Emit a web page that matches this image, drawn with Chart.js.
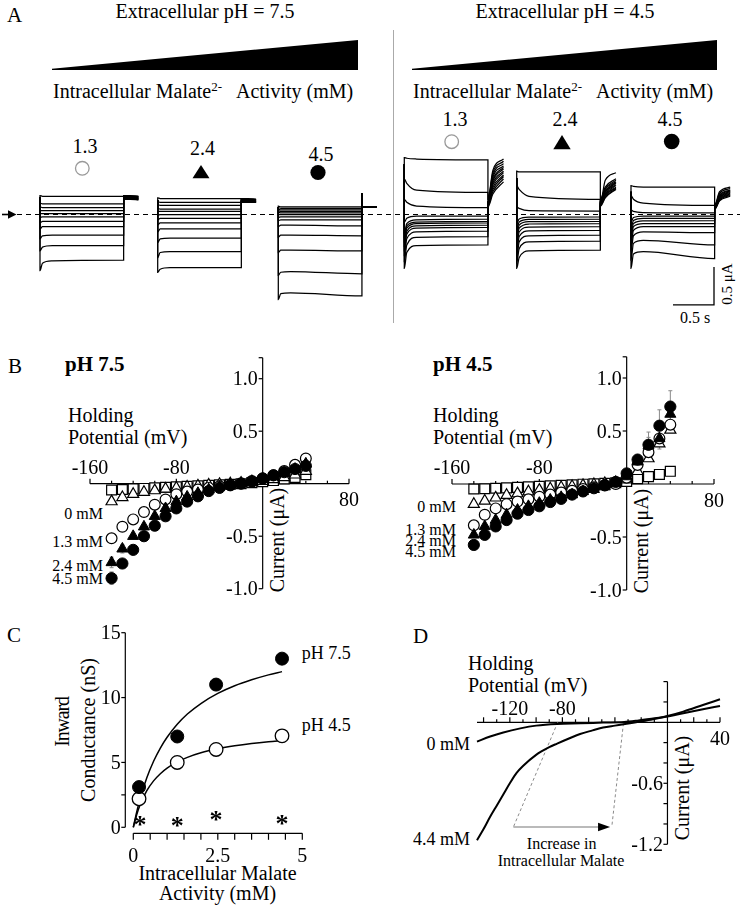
<!DOCTYPE html>
<html lang="en"><head><meta charset="utf-8"><title>Intracellular malate and ALMT currents</title>
<script src="https://cdn.jsdelivr.net/npm/chart.js@4.4.1/dist/chart.umd.min.js"></script>
<style>
 html,body{margin:0;padding:0;background:#fff}
 #fig{position:relative;width:740px;height:909px;overflow:hidden;font-family:"Liberation Serif","Times New Roman",serif;color:#000}
 canvas{position:absolute}
 .t{position:absolute;white-space:nowrap;line-height:1}
 .c{transform:translate(-50%,-50%)}
 .l{transform:translate(0,-50%)}
 .r{transform:translate(-100%,-50%)}
 .v{transform:translate(-50%,-50%) rotate(-90deg)}
 .sup{font-size:13px;position:relative;top:-7px}
 .b{font-weight:bold}
</style></head>
<body><div id="fig">
<svg style="position:absolute;left:0;top:0" width="740" height="200">
 <polygon points="52,68.8 358,40 358,70 52,70" fill="#000"/>
 <polygon points="412,68.8 717,40 717,70 412,70" fill="#000"/>
 <circle cx="82.3" cy="168.3" r="6.8" fill="#fff" stroke="#999" stroke-width="1.3"/>
 <polygon points="201,165 209.5,178.3 192.5,178.3" fill="#000"/>
 <circle cx="318" cy="172.5" r="7.6" fill="#000"/>
 <circle cx="451.7" cy="141.7" r="6.8" fill="#fff" stroke="#999" stroke-width="1.3"/>
 <polygon points="562,135 570.7,149.3 553.3,149.3" fill="#000"/>
 <circle cx="671.7" cy="141.5" r="7.8" fill="#000"/>
</svg>
<div style="position:absolute;left:392.5px;top:30px;width:1.5px;height:293px;background:#aaa"></div>

<div class="t l" style="left:7px;top:15px;font-size:21px">A</div>
<div class="t c" style="left:205px;top:10.5px;font-size:20px">Extracellular pH = 7.5</div>
<div class="t c" style="left:565px;top:10.5px;font-size:20px">Extracellular pH = 4.5</div>
<div class="t l" style="left:53px;top:90.8px;font-size:20px">Intracellular Malate<span class="sup">2-</span>&nbsp;&nbsp; Activity (mM)</div>
<div class="t l" style="left:413px;top:90.8px;font-size:20px">Intracellular Malate<span class="sup">2-</span>&nbsp;&nbsp; Activity (mM)</div>
<div class="t c" style="left:85px;top:146px;font-size:20px">1.3</div>
<div class="t c" style="left:202.5px;top:147.5px;font-size:20px">2.4</div>
<div class="t c" style="left:321px;top:154px;font-size:20px">4.5</div>
<div class="t c" style="left:455px;top:119px;font-size:20px">1.3</div>
<div class="t c" style="left:565px;top:119px;font-size:20px">2.4</div>
<div class="t c" style="left:670px;top:119px;font-size:20px">4.5</div>
<div class="t v" style="left:727px;top:284px;font-size:15px">0.5 μA</div>
<div class="t c" style="left:695px;top:318px;font-size:16px">0.5 s</div>

<div class="t l" style="left:8px;top:366px;font-size:21px">B</div>
<div class="t l b" style="left:65px;top:364px;font-size:21px">pH 7.5</div>
<div class="t l b" style="left:433px;top:364px;font-size:21px">pH 4.5</div>
<div class="t l" style="left:68px;top:415px;font-size:20px">Holding</div>
<div class="t l" style="left:68px;top:436.7px;font-size:20px">Potential (mV)</div>
<div class="t l" style="left:433px;top:415px;font-size:20px">Holding</div>
<div class="t l" style="left:433px;top:436.7px;font-size:20px">Potential (mV)</div>
<div class="t v" style="left:277px;top:540px;font-size:20px">Current (μA)</div>
<div class="t v" style="left:641px;top:541px;font-size:20px">Current (μA)</div>
<div class="t r" style="left:103px;top:514px;font-size:16px">0 mM</div>
<div class="t r" style="left:103px;top:541.7px;font-size:16px">1.3 mM</div>
<div class="t r" style="left:103px;top:565.7px;font-size:16px">2.4 mM</div>
<div class="t r" style="left:103px;top:579px;font-size:16px">4.5 mM</div>
<div class="t r" style="left:456px;top:506.7px;font-size:16px">0 mM</div>
<div class="t r" style="left:456px;top:529.7px;font-size:16px">1.3 mM</div>
<div class="t r" style="left:456px;top:541.3px;font-size:16px">2.4 mM</div>
<div class="t r" style="left:456px;top:551.7px;font-size:16px">4.5 mM</div>

<div class="t l" style="left:7px;top:635px;font-size:21px">C</div>
<div class="t v" style="left:62px;top:722px;font-size:20px;letter-spacing:-1.2px">Inward</div>
<div class="t v" style="left:88px;top:730px;font-size:20px">Conductance (nS)</div>
<div class="t l" style="left:301.7px;top:653px;font-size:18px">pH 7.5</div>
<div class="t l" style="left:301.7px;top:725px;font-size:18px">pH 4.5</div>
<div class="t c" style="left:217.5px;top:873px;font-size:20px">Intracellular Malate</div>
<div class="t c" style="left:217.5px;top:893.3px;font-size:20px">Activity (mM)</div>

<div class="t l" style="left:413px;top:635.8px;font-size:21px">D</div>
<div class="t l" style="left:468px;top:662.7px;font-size:20px">Holding</div>
<div class="t l" style="left:468px;top:684.5px;font-size:20px">Potential (mV)</div>
<div class="t v" style="left:681.7px;top:788px;font-size:20px">Current (μA)</div>
<div class="t r" style="left:470px;top:744px;font-size:18px">0 mM</div>
<div class="t r" style="left:470px;top:839px;font-size:18px">4.4 mM</div>
<div class="t c" style="left:561.7px;top:844px;font-size:16px">Increase in</div>
<div class="t c" style="left:561px;top:861px;font-size:16px">Intracellular Malate</div>

<canvas id="cA" width="740" height="180" style="left:0;top:150px;width:740px;height:180px"></canvas>
<canvas id="cB1" width="370" height="270" style="left:0;top:340px;width:370px;height:270px"></canvas>
<canvas id="cB2" width="370" height="270" style="left:370px;top:340px;width:370px;height:270px"></canvas>
<canvas id="cC" width="380" height="294" style="left:0;top:615px;width:380px;height:294px"></canvas>
<canvas id="cD" width="360" height="294" style="left:380px;top:615px;width:360px;height:294px"></canvas>
</div>
<script>
// ======================= DATA =======================
// ---- Panel A: voltage-clamp current traces (uA vs s) ----
const pulseT = [0, 0.03, 0.15, 1.02];           // sample times within the pulse (s)
const tailT_std = [1.02, 1.10, 1.20];           // tail sample times (s)
const tailT_spike = [1.02, 1.02, 1.20];
const tailT_fan = [1.02, 1.08, 1.21];

// pH 7.5, 1.3 mM : [I(0), I(0.03), I(0.15), I(end)]
const hold75_13 = 0.23;
const sweeps75_13 = [[0.25,0.24,0.24,0.24],[0.15,0.14,0.14,0.14],[0.10,0.09,0.09,0.09],[0.05,0.05,0.05,0.05],
 [0.01,0.01,0.01,0.01],[-0.04,-0.03,-0.03,-0.03],[-0.11,-0.09,-0.09,-0.09],[-0.19,-0.16,-0.16,-0.16],
 [-0.32,-0.28,-0.27,-0.27],[-0.48,-0.43,-0.41,-0.41],[-0.74,-0.64,-0.61,-0.60]];
const tails75_13 = [[0.25,0.25,0.24],[0.25,0.24,0.24],[0.24,0.24,0.23],[0.24,0.23,0.23],[0.23,0.23,0.22],[0.23,0.22,0.22],
 [0.22,0.22,0.21],[0.22,0.21,0.21],[0.21,0.21,0.20],[0.21,0.20,0.20],[0.20,0.20,0.19]];
// pH 7.5, 2.4 mM
const hold75_24 = 0.19;
const sweeps75_24 = [[0.22,0.21,0.21,0.21],[0.17,0.16,0.16,0.16],[0.13,0.12,0.12,0.12],[0.08,0.07,0.07,0.07],
 [0.04,0.04,0.04,0.04],[-0.01,0.0,0.0,0.0],[-0.07,-0.05,-0.05,-0.05],[-0.14,-0.11,-0.11,-0.11],
 [-0.23,-0.19,-0.19,-0.19],[-0.37,-0.32,-0.31,-0.31],[-0.57,-0.50,-0.49,-0.49],[-0.76,-0.72,-0.70,-0.70]];
const tails75_24 = [[0.21,0.21,0.20],[0.21,0.20,0.20],[0.20,0.20,0.19],[0.20,0.19,0.19],[0.19,0.19,0.18],[0.19,0.18,0.18],
 [0.18,0.18,0.17],[0.18,0.17,0.17],[0.17,0.17,0.17],[0.17,0.17,0.16],[0.17,0.16,0.16],[0.16,0.16,0.16]];
// pH 7.5, 4.5 mM
const hold75_45 = 0.10;
const sweeps75_45 = [[0.11,0.10,0.10,0.10],[0.09,0.08,0.08,0.08],[0.07,0.06,0.06,0.06],[0.05,0.04,0.04,0.04],
 [0.03,0.02,0.02,0.02],[0.0,0.0,0.0,0.0],[-0.04,-0.03,-0.03,-0.03],[-0.08,-0.07,-0.07,-0.07],
 [-0.16,-0.14,-0.14,-0.15],[-0.30,-0.27,-0.27,-0.28],[-0.50,-0.47,-0.47,-0.48],[-0.80,-0.76,-0.75,-0.78],
 [-1.12,-1.04,-1.03,-1.07]];
const tails75_45 = [[0.28,0.10,0.10]];
// pH 4.5, 1.3 mM
const hold45_13 = 0.66;
const sweeps45_13 = [[0.75,0.74,0.73,0.72],[0.47,0.41,0.32,0.29],[0.20,0.16,0.11,0.09],[-0.10,-0.05,-0.02,-0.02],
 [-0.25,-0.12,-0.07,-0.06],[-0.30,-0.15,-0.10,-0.09],[-0.36,-0.18,-0.12,-0.11],[-0.42,-0.22,-0.15,-0.14],
 [-0.48,-0.26,-0.18,-0.17],[-0.54,-0.32,-0.23,-0.22],[-0.62,-0.40,-0.30,-0.29],[-0.71,-0.50,-0.41,-0.40]];
const tails45_13 = [[0.20,0.58,0.73],[0.19,0.55,0.70],[0.18,0.52,0.67],[0.17,0.49,0.64],[0.17,0.46,0.62],[0.16,0.44,0.60],
 [0.15,0.41,0.57],[0.15,0.39,0.55],[0.14,0.36,0.52],[0.13,0.33,0.50],[0.12,0.30,0.47],[0.10,0.27,0.43]];
// pH 4.5, 2.4 mM
const hold45_24 = 0.48;
const sweeps45_24 = [[0.57,0.56,0.56,0.56],[0.38,0.33,0.24,0.20],[0.10,0.08,0.05,0.045],[-0.12,-0.06,-0.035,-0.03],
 [-0.20,-0.10,-0.065,-0.06],[-0.28,-0.14,-0.095,-0.09],[-0.34,-0.18,-0.125,-0.12],[-0.42,-0.23,-0.165,-0.16],
 [-0.50,-0.29,-0.215,-0.21],[-0.58,-0.36,-0.28,-0.27],[-0.64,-0.45,-0.36,-0.35],[-0.71,-0.57,-0.48,-0.47]];
const tails45_24 = [[0.15,0.45,0.55],[0.20,0.36,0.47],[0.19,0.34,0.45],[0.18,0.33,0.43],[0.17,0.31,0.42],[0.16,0.30,0.41],
 [0.15,0.29,0.39],[0.15,0.27,0.38],[0.14,0.26,0.36],[0.13,0.25,0.35],[0.12,0.23,0.34],[0.11,0.22,0.33]];
// pH 4.5, 4.5 mM
const hold45_45 = 0.30;
const sweeps45_45 = [[0.38,0.37,0.36,0.36],[0.25,0.20,0.15,0.12],[0.06,0.04,0.025,0.02],[-0.10,-0.04,-0.02,-0.02],
 [-0.18,-0.08,-0.05,-0.05],[-0.25,-0.12,-0.085,-0.08],[-0.32,-0.16,-0.12,-0.12],[-0.40,-0.21,-0.16,-0.16],
 [-0.48,-0.28,-0.23,-0.24],[-0.60,-0.38,-0.34,-0.40],[-0.71,-0.52,-0.49,-0.58]];
const tails45_45 = [[0.12,0.30,0.36],[0.11,0.28,0.34],[0.11,0.26,0.32],[0.10,0.25,0.31],[0.10,0.24,0.30],[0.09,0.23,0.29],
 [0.09,0.22,0.28],[0.08,0.21,0.27],[0.08,0.20,0.26],[0.07,0.19,0.25],[0.07,0.18,0.24]];
const scaleBarI = 0.5;   // uA
const scaleBarT = 0.5;   // s

// ---- Panel B: I-V relations (uA) ----
const holdingMV = [-140,-130,-120,-110,-100,-90,-80,-70,-60,-50,-40,-30,-20,-10,0,10,20,30,40];
const bX_ticks = [-160,-140,-120,-100,-80,-60,-40,-20,0,20,40,60,80];
const bX_labels = [-160,-80,80];
const bY_ticks = [-1.0,-0.5,0.5,1.0,1.2];
const bY_labels = [-1.0,-0.5,0.5,1.0];
// pH 7.5
const ctrl_pH75 = [-0.06,-0.055,-0.05,-0.045,-0.04,-0.035,-0.03,-0.025,-0.02,-0.015,-0.01,-0.005,0,0.01,0.02,0.03,0.045,0.06,0.085];
const mal0_pH75 = [-0.17,-0.13,-0.10,-0.08,-0.065,-0.05,-0.04,-0.03,-0.02,-0.012,-0.005,0,0.005,0.012,0.025,0.04,0.06,0.085,0.12];
const mal13_pH75 = [-0.52,-0.41,-0.34,-0.27,-0.20,-0.15,-0.10,-0.075,-0.055,-0.04,-0.025,-0.012,0.005,0.025,0.05,0.08,0.12,0.18,0.24];
const mal24_pH75 = [-0.75,-0.62,-0.50,-0.41,-0.31,-0.235,-0.17,-0.125,-0.09,-0.056,-0.03,-0.01,0.005,0.025,0.05,0.07,0.10,0.14,0.19];
const mal45_pH75 = [-0.90,-0.76,-0.63,-0.50,-0.40,-0.31,-0.235,-0.17,-0.12,-0.07,-0.04,-0.015,0,0.02,0.05,0.08,0.11,0.14,0.17];
const err24_pH75 = [0.05,0.04,0,0,0,0,0,0,0,0,0,0,0,0,0,0,0,0,0];
const err45_pH75 = [0.06,0.04,0.03,0,0,0,0,0,0,0,0,0,0,0,0,0,0,0,0];
// pH 4.5
const ctrl_pH45 = [-0.047,-0.045,-0.04,-0.037,-0.032,-0.027,-0.022,-0.017,-0.012,-0.007,-0.002,0.002,0.006,0.012,0.025,0.05,0.07,0.09,0.12];
const mal0_pH45 = [-0.19,-0.16,-0.13,-0.105,-0.09,-0.072,-0.057,-0.044,-0.032,-0.022,-0.012,-0.004,0.005,0.015,0.04,0.12,0.24,0.38,0.51];
const mal13_pH45 = [-0.39,-0.29,-0.23,-0.19,-0.165,-0.145,-0.12,-0.10,-0.08,-0.063,-0.047,-0.03,-0.015,0,0.06,0.18,0.30,0.43,0.56];
const mal24_pH45 = [-0.48,-0.40,-0.34,-0.29,-0.245,-0.21,-0.18,-0.15,-0.125,-0.10,-0.07,-0.05,-0.025,0.005,0.07,0.21,0.36,0.43,0.66];
const mal45_pH45 = [-0.575,-0.48,-0.40,-0.34,-0.28,-0.245,-0.21,-0.17,-0.14,-0.10,-0.07,-0.04,-0.01,0.02,0.10,0.23,0.37,0.55,0.73];
const err24_pH45 = [0,0,0,0,0,0,0,0,0,0,0,0,0,0,0,0.03,0.08,0.1,0.12];
const err45_pH45 = [0.03,0,0,0,0,0,0,0,0,0,0,0,0,0,0,0.05,0.12,0.15,0.15];

// ---- Panel C: inward conductance (nS) vs malate activity (mM) ----
const malateAct = [0.17, 1.3, 2.45, 4.4];
const gIn_pH75 = [3.1, 7.0, 11.0, 13.0];
const gIn_pH45 = [2.2, 5.0, 6.0, 7.05];
const fitMal = [0,0.1,0.2,0.4,0.6,0.8,1.0,1.3,1.6,2.0,2.5,3.0,3.5,4.0,4.4];
const fit_pH75 = [0,1.17,2.18,3.82,5.09,6.11,6.94,7.94,8.73,9.54,10.32,10.91,11.37,11.75,12.0];
const fit_pH45 = [0,0.97,1.72,2.82,3.58,4.13,4.56,5.04,5.39,5.74,6.05,6.28,6.46,6.60,6.69];
const starMal = [0.2, 1.3, 2.45, 4.4];
const starLevel = [0.56, 0.51, 0.95, 0.62];
const cX_ticks = [0,0.5,1,1.5,2,2.5,3,3.5,4,4.5,5];
const cX_labels = [0, 2.5, 5];
const cY_ticks = [0, 2.5, 5, 10, 15];
const cY_labels = [0, 5, 10, 15];

// ---- Panel D: schematic I-V curves ----
const dV_0mM = [-145,-135,-125,-112,-100,-84,-66,-49,-33,-23,-11,0,12,27,40];
const dI_0mM = [-0.19,-0.14,-0.10,-0.06,-0.033,-0.016,-0.01,-0.003,0.003,0.016,0.036,0.056,0.089,0.128,0.16];
const dV_44mM = [-145,-140,-135,-130,-125,-120,-115,-110,-100,-90,-84,-75,-66.5,-57,-49,-40,-33.5,-23,-11,0,12,27,40];
const dI_44mM = [-1.16,-1.05,-0.93,-0.82,-0.71,-0.60,-0.50,-0.43,-0.32,-0.245,-0.21,-0.16,-0.115,-0.08,-0.052,-0.033,-0.02,0.003,0.03,0.062,0.105,0.17,0.226];
const dGuide1V = [-83.5,-117.3], dGuide1I = [0.0,-1.03];
const dGuide2V = [-33.5,-42.4], dGuide2I = [-0.01,-1.03];
const dArrowV = [-117.3,-43.7], dArrowI = -1.03;
const dX_ticks = [-140,-130,-120,-110,-100,-90,-80,-70,-60,-50,-40,-30,-20,-10,0,10,20,30,40];
const dX_labels = [-120,-80,40];
const dY_ticks = [-1.2,-1.0,-0.8,-0.6,-0.4,-0.2,0.2,0.4];
const dY_labels = [-0.6,-1.2];

// ======================= DRAWING =======================
const SERIF = '"Liberation Serif","Times New Roman",serif';
Chart.defaults.font.family = SERIF;

function seg(ctx, x1, y1, x2, y2) { ctx.beginPath(); ctx.moveTo(x1, y1); ctx.lineTo(x2, y2); ctx.stroke(); }
function txt(ctx, s, x, y, align, size) {
  ctx.font = size + 'px ' + SERIF; ctx.textAlign = align; ctx.textBaseline = 'alphabetic';
  ctx.fillText(s, x, y + 0.33 * size);
}
function baseOptions(xr, yr, pad) {
  return {
    responsive: false, animation: false, events: [],
    layout: { padding: pad },
    plugins: { legend: { display: false }, tooltip: { enabled: false }, title: { display: false } },
    scales: {
      x: { type: 'linear', min: xr[0], max: xr[1], display: false },
      y: { type: 'linear', min: yr[0], max: yr[1], display: false }
    }
  };
}
const errorBars = {
  id: 'errorBars',
  beforeDatasetsDraw(chart) {
    const { ctx, scales: { x, y } } = chart;
    ctx.save(); ctx.strokeStyle = '#8a8a8a'; ctx.lineWidth = 1;
    chart.data.datasets.forEach(ds => {
      if (!ds.errors) return;
      ds.data.forEach((p, i) => {
        const e = ds.errors[i]; if (!e) return;
        const px = x.getPixelForValue(p.x);
        const pHi = y.getPixelForValue(p.y + e), pLo = y.getPixelForValue(p.y - e);
        seg(ctx, px, pLo, px, pHi); seg(ctx, px - 2, pHi, px + 2, pHi); seg(ctx, px - 2, pLo, px + 2, pLo);
      });
    });
    ctx.restore();
  }
};
function line(data, opts) {
  return Object.assign({ data, showLine: true, pointRadius: 0, borderColor: '#000', borderWidth: 1.3,
    fill: false, clip: false, cubicInterpolationMode: 'monotone' }, opts || {});
}
function pts(xs, ys) { return xs.map((v, i) => ({ x: v, y: ys[i] })); }

// ---------- Panel A ----------
const PX_PER_S = 82, PX_PER_UA = 76;          // layout scale of the trace panel
const A_ZERO_Y = 64.5;                         // zero-current level inside canvas (px)
const families = [
  { startPx: 40,    hold: hold75_13, sweeps: sweeps75_13, tails: tails75_13, tailT: tailT_std },
  { startPx: 157.7, hold: hold75_24, sweeps: sweeps75_24, tails: tails75_24, tailT: tailT_std },
  { startPx: 278.3, hold: hold75_45, sweeps: sweeps75_45, tails: tails75_45, tailT: tailT_spike },
  { startPx: 404.3, hold: hold45_13, sweeps: sweeps45_13, tails: tails45_13, tailT: tailT_fan },
  { startPx: 516.7, hold: hold45_24, sweeps: sweeps45_24, tails: tails45_24, tailT: tailT_fan },
  { startPx: 631,   hold: hold45_45, sweeps: sweeps45_45, tails: tails45_45, tailT: tailT_fan }
];
const xMaxA = 740 / PX_PER_S;
const yMaxA = A_ZERO_Y / PX_PER_UA, yMinA = -(180 - A_ZERO_Y) / PX_PER_UA;
const dashStartT = 17 / PX_PER_S;
const barT = 714 / PX_PER_S, barI = -1.19;
const setsA = [];
setsA.push(line([{ x: dashStartT, y: 0 }, { x: xMaxA, y: 0 }], { borderDash: [5, 4], borderWidth: 1.2, cubicInterpolationMode: 'default' }));
setsA.push(line([{ x: barT - scaleBarT, y: barI }, { x: barT, y: barI }, { x: barT, y: barI + scaleBarI }], { borderWidth: 1.3, cubicInterpolationMode: 'default' }));
families.forEach(f => {
  const t0 = f.startPx / PX_PER_S;
  f.sweeps.forEach((s, i) => {
    const tl = f.tails[Math.min(i, f.tails.length - 1)];
    const p = [{ x: t0, y: f.hold }];
    pulseT.forEach((t, k) => p.push({ x: t0 + t, y: s[k] }));
    f.tailT.forEach((t, k) => p.push({ x: t0 + t, y: tl[k] }));
    setsA.push(line(p, { borderWidth: 1.25 }));
  });
});
const arrowA = {
  id: 'arrowA',
  afterDatasetsDraw(chart) {
    const { ctx, scales: { y } } = chart;
    const y0 = y.getPixelForValue(0);
    ctx.save(); ctx.strokeStyle = '#000'; ctx.fillStyle = '#000'; ctx.lineWidth = 1.6;
    seg(ctx, 2, y0, 10, y0);
    ctx.beginPath(); ctx.moveTo(16.5, y0); ctx.lineTo(8, y0 - 4.2); ctx.lineTo(8, y0 + 4.2); ctx.closePath(); ctx.fill();
    ctx.restore();
  }
};
new Chart(document.getElementById('cA'), {
  type: 'scatter', data: { datasets: setsA },
  options: baseOptions([0, xMaxA], [yMinA, yMaxA], 0), plugins: [arrowA]
});

// ---------- Panel B ----------
function ivAxes(id) {
  return {
    id,
    beforeDatasetsDraw(chart) {
      const { ctx, scales: { x, y } } = chart;
      const x0 = x.getPixelForValue(0), y0 = y.getPixelForValue(0);
      ctx.save(); ctx.strokeStyle = '#000'; ctx.fillStyle = '#000'; ctx.lineWidth = 1.2;
      seg(ctx, x.getPixelForValue(bX_ticks[0]), y0, x.getPixelForValue(bX_ticks[bX_ticks.length - 1]), y0);
      seg(ctx, x0, y.getPixelForValue(-1.0), x0, y.getPixelForValue(1.2));
      bX_ticks.forEach(v => { if (v === 0) return; const px = x.getPixelForValue(v); seg(ctx, px, y0, px, y0 - (bX_labels.includes(v) ? 5 : 3)); });
      bY_ticks.forEach(v => { const py = y.getPixelForValue(v); seg(ctx, x0, py, x0 - 4, py); });
      bX_labels.forEach(v => { const px = x.getPixelForValue(v); txt(ctx, String(v), px, v < 0 ? y0 - 16.6 : y0 + 16, 'center', 20); });
      bY_labels.forEach(v => { txt(ctx, v.toFixed(1), x0 - 5, y.getPixelForValue(v), 'right', 20); });
      ctx.restore();
    }
  };
}
function ivSets(ctrl, m0, m13, m24, m45, e24, e45) {
  const open = { pointBackgroundColor: '#fff', pointBorderColor: '#000', pointBorderWidth: 1.2, showLine: false, clip: false };
  const filled = { pointBackgroundColor: '#000', pointBorderColor: '#000', pointBorderWidth: 1, showLine: false, clip: false };
  return [
    Object.assign({ label: '4.5 mM', data: pts(holdingMV, m45), pointStyle: 'circle', pointRadius: 5.6, errors: e45 }, filled),
    Object.assign({ label: '2.4 mM', data: pts(holdingMV, m24), pointStyle: 'triangle', pointRadius: 6.4, errors: e24 }, filled),
    Object.assign({ label: '1.3 mM', data: pts(holdingMV, m13), pointStyle: 'circle', pointRadius: 5.4 }, open),
    Object.assign({ label: '0 mM', data: pts(holdingMV, m0), pointStyle: 'triangle', pointRadius: 6.4 }, open),
    Object.assign({ label: 'control', data: pts(holdingMV, ctrl), pointStyle: 'rect', pointRadius: 7 }, open)
  ];
}
new Chart(document.getElementById('cB1'), {
  type: 'scatter',
  data: { datasets: ivSets(ctrl_pH75, mal0_pH75, mal13_pH75, mal24_pH75, mal45_pH75, err24_pH75, err45_pH75) },
  options: baseOptions([-160, 80], [-1.0, 1.2], { left: 90, right: 21, top: 17.7, bottom: 21.3 }),
  plugins: [ivAxes('axB1'), errorBars]
});
new Chart(document.getElementById('cB2'), {
  type: 'scatter',
  data: { datasets: ivSets(ctrl_pH45, mal0_pH45, mal13_pH45, mal24_pH45, mal45_pH45, err24_pH45, err45_pH45) },
  options: baseOptions([-160, 80], [-1.0, 1.2], { left: 82, right: 26, top: 16.8, bottom: 20 }),
  plugins: [ivAxes('axB2'), errorBars]
});

// ---------- Panel C ----------
const axesC = {
  id: 'axesC',
  beforeDatasetsDraw(chart) {
    const { ctx, scales: { x, y } } = chart;
    const ax = x.getPixelForValue(0) - 8, ay = y.getPixelForValue(0) + 6;
    ctx.save(); ctx.strokeStyle = '#000'; ctx.fillStyle = '#000'; ctx.lineWidth = 1.2;
    seg(ctx, ax, y.getPixelForValue(0), ax, y.getPixelForValue(15));
    cY_ticks.forEach(v => { const py = y.getPixelForValue(v); seg(ctx, ax, py, ax - 4, py); });
    cY_labels.forEach(v => txt(ctx, String(v), ax - 4.5, y.getPixelForValue(v), 'right', 20));
    seg(ctx, x.getPixelForValue(0), ay, x.getPixelForValue(5), ay);
    cX_ticks.forEach(v => { const px = x.getPixelForValue(v); seg(ctx, px, ay, px, ay + 6.5); });
    cX_labels.forEach(v => txt(ctx, String(v), x.getPixelForValue(v), ay + 21.7, 'center', 20));
    ctx.restore();
  },
  afterDatasetsDraw(chart) {
    const { ctx, scales: { x, y } } = chart;
    ctx.save(); ctx.fillStyle = '#000';
    ctx.font = 'bold 26px ' + SERIF; ctx.textAlign = 'center'; ctx.textBaseline = 'alphabetic';
    starMal.forEach((v, i) => ctx.fillText('*', x.getPixelForValue(v), y.getPixelForValue(starLevel[i]) + 13));
    ctx.restore();
  }
};
new Chart(document.getElementById('cC'), {
  type: 'scatter',
  data: { datasets: [
    { label: 'pH 7.5', data: pts(malateAct, gIn_pH75), pointStyle: 'circle', pointRadius: 6.5, pointBackgroundColor: '#000', pointBorderColor: '#000', showLine: false, clip: false },
    { label: 'pH 4.5', data: pts(malateAct, gIn_pH45), pointStyle: 'circle', pointRadius: 6.8, pointBackgroundColor: '#fff', pointBorderColor: '#000', pointBorderWidth: 1.3, showLine: false, clip: false },
    line(pts(fitMal, fit_pH75), { borderWidth: 1.5 }),
    line(pts(fitMal, fit_pH45), { borderWidth: 1.5 })
  ] },
  options: baseOptions([0, 5], [0, 15], { left: 133.3, right: 77.7, top: 17.7, bottom: 81.7 }),
  plugins: [axesC]
});

// ---------- Panel D ----------
const axesD = {
  id: 'axesD',
  beforeDatasetsDraw(chart) {
    const { ctx, scales: { x, y } } = chart;
    const x0 = x.getPixelForValue(0), y0 = y.getPixelForValue(0);
    ctx.save(); ctx.strokeStyle = '#000'; ctx.fillStyle = '#000'; ctx.lineWidth = 1.2;
    seg(ctx, x.getPixelForValue(-145), y0, x.getPixelForValue(40), y0);
    seg(ctx, x0, y.getPixelForValue(-1.2), x0, y.getPixelForValue(0.4));
    dX_ticks.forEach(v => { if (v === 0) return; const px = x.getPixelForValue(v); seg(ctx, px, y0, px, y0 - (v % 20 === 0 ? 5 : 3)); });
    dY_ticks.forEach(v => { const py = y.getPixelForValue(v); seg(ctx, x0, py, x0 - 4, py); });
    dX_labels.forEach(v => txt(ctx, String(v), x.getPixelForValue(v), v < 0 ? y0 - 14.3 : y0 + 15.7, 'center', 20));
    dY_labels.forEach(v => txt(ctx, v.toFixed(1), x0 - 4.5, y.getPixelForValue(v), 'right', 20));
    ctx.restore();
  },
  afterDatasetsDraw(chart) {
    const { ctx, scales: { x, y } } = chart;
    const ya = y.getPixelForValue(dArrowI), xa = x.getPixelForValue(dArrowV[0]), xb = x.getPixelForValue(dArrowV[1]);
    ctx.save(); ctx.strokeStyle = '#777'; ctx.fillStyle = '#000'; ctx.lineWidth = 1.2;
    seg(ctx, xa, ya, xb - 10, ya);
    ctx.beginPath(); ctx.moveTo(xb, ya); ctx.lineTo(xb - 12, ya - 4.3); ctx.lineTo(xb - 12, ya + 4.3); ctx.closePath(); ctx.fill();
    ctx.restore();
  }
};
new Chart(document.getElementById('cD'), {
  type: 'scatter',
  data: { datasets: [
    line(pts(dV_0mM, dI_0mM), { borderWidth: 2 }),
    line(pts(dV_44mM, dI_44mM), { borderWidth: 2 }),
    line(pts(dGuide1V, dGuide1I), { borderWidth: 1, borderColor: '#8a8a8a', borderDash: [3, 2.5], cubicInterpolationMode: 'default' }),
    line(pts(dGuide2V, dGuide2I), { borderWidth: 1, borderColor: '#8a8a8a', borderDash: [3, 2.5], cubicInterpolationMode: 'default' })
  ] },
  options: baseOptions([-145, 40], [-1.2, 0.4], { left: 97, right: 20, top: 66.6, bottom: 64.7 }),
  plugins: [axesD]
});
</script>
</body></html>
